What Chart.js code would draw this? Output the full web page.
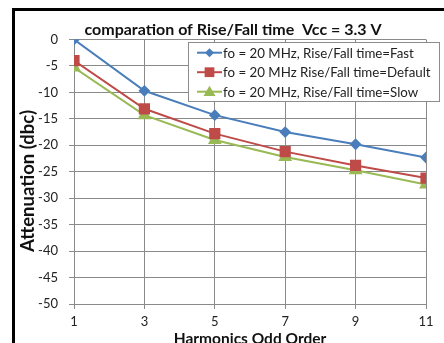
<!DOCTYPE html>
<html>
<head>
<meta charset="utf-8">
<script src="https://cdn.jsdelivr.net/npm/chart.js@4"></script>
<style>
  html, body { margin: 0; padding: 0; background: #fff; }
  #wrap { width: 444px; height: 343px; }
</style>
</head>
<body>
<div id="wrap"><canvas id="c" width="444" height="343"></canvas></div>
<script>
const orders = [1, 3, 5, 7, 9, 11];
const fastVals = [0, -9.7, -14.3, -17.5, -19.8, -22.3];
const defaultVals = [-4.0, -13.1, -17.8, -21.2, -23.8, -26.2];
const slowVals = [-5.3, -14.3, -19.0, -22.2, -24.7, -27.4];
const seriesNames = [
  'fo = 20 MHz, Rise/Fall time=Fast',
  'fo = 20 MHz Rise/Fall time=Default',
  'fo = 20 MHz, Rise/Fall time=Slow'
];

const FONT = 'Lato, "Open Sans", sans-serif';
const GRID = '#8a8a8a';

const pts = vals => vals.map((v, i) => ({ x: orders[i], y: v }));

// frame, chart title, y title and the boxed legend
const decor = {
  id: 'decor',
  afterDraw(chart) {
    const ctx = chart.ctx;
    ctx.save();
    ctx.strokeStyle = '#000';
    ctx.lineWidth = 3;
    ctx.beginPath();
    ctx.moveTo(13.5, 360);
    ctx.lineTo(13.5, 9.5);
    ctx.lineTo(460, 9.5);
    ctx.stroke();

    ctx.fillStyle = '#111';
    ctx.font = 'bold 16px ' + FONT;
    ctx.textAlign = 'center';
    ctx.textBaseline = 'middle';
    ctx.fillText('comparation of Rise/Fall time  Vcc = 3.3 V', 233, 30);

    ctx.save();
    ctx.translate(28, 181);
    ctx.rotate(-Math.PI / 2);
    ctx.font = 'bold 18.5px ' + FONT;
    ctx.fillText('Attenuation (dbc)', 0, 0);
    ctx.restore();

    // legend
    ctx.fillStyle = '#fff';
    ctx.fillRect(188.5, 42.5, 251, 59);
    ctx.strokeStyle = '#8c8c8c';
    ctx.lineWidth = 1;
    ctx.strokeRect(188.5, 42.5, 251, 59);
    ctx.font = '13.3px ' + FONT;
    ctx.textAlign = 'left';
    chart.data.datasets.forEach((ds, i) => {
      const y = 52.7 + i * 19.5;
      ctx.strokeStyle = ds.borderColor;
      ctx.lineWidth = 2;
      ctx.beginPath();
      ctx.moveTo(197, y);
      ctx.lineTo(222, y);
      ctx.stroke();
      ctx.fillStyle = ds.backgroundColor;
      ctx.beginPath();
      const r = ds.pointRadius;
      if (ds.pointStyle === 'rectRot') {
        ctx.moveTo(209.5, y - r); ctx.lineTo(209.5 + r, y); ctx.lineTo(209.5, y + r); ctx.lineTo(209.5 - r, y);
      } else if (ds.pointStyle === 'rect') {
        ctx.rect(209.5 - r * 0.75, y - r * 0.75, r * 1.5, r * 1.5);
      } else {
        ctx.moveTo(209.5, y - r); ctx.lineTo(209.5 + r, y + r * 0.7); ctx.lineTo(209.5 - r, y + r * 0.7);
      }
      ctx.closePath();
      ctx.fill();
      ctx.fillStyle = '#222';
      ctx.fillText(ds.label, 223, y + 1);
    });
    ctx.restore();
  }
};

new Chart(document.getElementById('c'), {
  type: 'line',
  data: {
    datasets: [
      { label: seriesNames[0], data: pts(fastVals), borderColor: '#4a7ebb', backgroundColor: '#4a7ebb',
        pointStyle: 'rectRot', pointRadius: 4.5, borderWidth: 2 },
      { label: seriesNames[1], data: pts(defaultVals), borderColor: '#be4b48', backgroundColor: '#be4b48',
        pointStyle: 'rect', pointRadius: 6.5, borderWidth: 2 },
      { label: seriesNames[2], data: pts(slowVals), borderColor: '#98b954', backgroundColor: '#98b954',
        pointStyle: 'triangle', pointRadius: 6, borderWidth: 2 }
    ]
  },
  options: {
    responsive: false,
    animation: false,
    layout: { padding: { left: 16, top: 39.5, right: 18, bottom: 0 } },
    plugins: { legend: { display: false }, title: { display: false }, tooltip: { enabled: false } },
    elements: { line: { tension: 0 }, point: { borderWidth: 0, hoverRadius: 5 } },
    scales: {
      x: {
        type: 'linear', min: 1, max: 11,
        afterFit: s => { s.height = 39; },
        ticks: { stepSize: 2, color: '#222', font: { family: FONT, size: 13 }, padding: 5 },
        grid: { color: GRID, tickLength: 5 },
        border: { color: GRID },
        title: { display: true, text: 'Harmonics Odd Order', color: '#111',
          font: { family: FONT, size: 15.5, weight: 'bold' }, padding: { top: 0, bottom: -5 } }
      },
      y: {
        min: -50, max: 0,
        afterFit: s => { s.width = 58; },
        ticks: { stepSize: 5, color: '#222', font: { family: FONT, size: 13 }, padding: 11 },
        grid: { color: GRID, tickLength: 5 },
        border: { color: GRID }
      }
    }
  },
  plugins: [decor]
});
</script>
</body>
</html>
